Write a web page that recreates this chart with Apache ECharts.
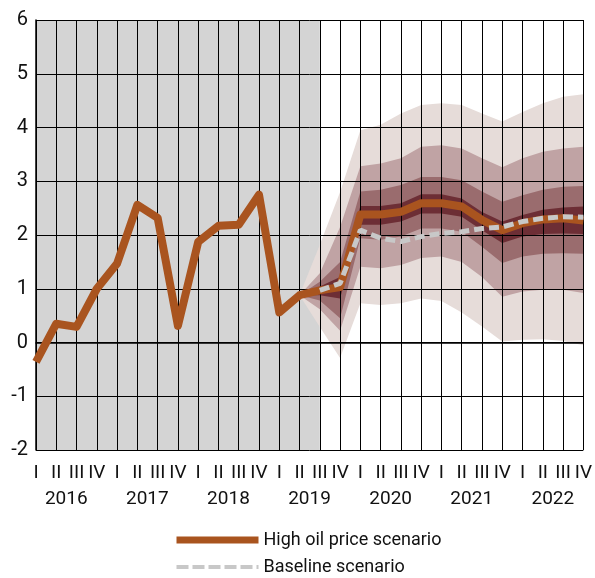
<!DOCTYPE html>
<html>
<head>
<meta charset="utf-8">
<script src="https://cdn.jsdelivr.net/npm/echarts@6/dist/echarts.min.js"></script>
<style>
  html, body { margin: 0; padding: 0; background: #fff; }
  #chart { width: 595px; height: 578px; }
</style>
</head>
<body>
<div id="chart"></div>
<script>
// Quarterly axis: 2016 Q1 .. 2022 Q4
const years = ['2016', '2017', '2018', '2019', '2020', '2021', '2022'];
const quarterNames = ['I', 'II', 'III', 'IV'];
const yTicks = { min: -2, max: 6, step: 1 };

// High oil price scenario (actuals through 2019 Q2, projection afterwards)
const highOilPrice = [
  -0.36, 0.35, 0.29, 1.00,
  1.47, 2.56, 2.32, 0.31,
  1.87, 2.17, 2.19, 2.75,
  0.56, 0.88, 0.97, 1.03,
  2.38, 2.38, 2.43, 2.59,
  2.59, 2.53, 2.28, 2.09,
  2.22, 2.29, 2.31, 2.27
];

// Baseline scenario projection (from 2019 Q3)
const baseline = [
  null, null, null, null,
  null, null, null, null,
  null, null, null, null,
  null, null, 0.97, 1.10,
  2.09, 1.94, 1.88, 1.97,
  2.03, 2.06, 2.12, 2.15,
  2.25, 2.31, 2.34, 2.33
];

// Uncertainty fan around the high oil price path, widest band first
const P = null;
const band4Upper = [P,P,P,P, P,P,P,P, P,P,P,P, P,0.88,1.82,2.80, 3.95,4.05,4.26,4.42, 4.45,4.42,4.26,4.11, 4.29,4.45,4.57,4.62];
const band4Lower = [P,P,P,P, P,P,P,P, P,P,P,P, P,0.88,0.29,-0.29, 0.73,0.70,0.73,0.82, 0.77,0.56,0.30,0.02, 0.05,0.06,0.03,-0.05];
const band3Upper = [P,P,P,P, P,P,P,P, P,P,P,P, P,0.88,1.29,2.15, 3.28,3.33,3.43,3.64, 3.67,3.61,3.43,3.26, 3.43,3.55,3.61,3.64];
const band3Lower = [P,P,P,P, P,P,P,P, P,P,P,P, P,0.88,0.62,0.22, 1.41,1.38,1.44,1.57, 1.60,1.50,1.22,0.85, 0.95,0.98,0.98,0.92];
const band2Upper = [P,P,P,P, P,P,P,P, P,P,P,P, P,0.88,1.13,1.50, 2.81,2.84,2.93,3.08, 3.08,3.02,2.81,2.62, 2.74,2.84,2.90,2.91];
const band2Lower = [P,P,P,P, P,P,P,P, P,P,P,P, P,0.88,0.78,0.45, 1.94,1.91,1.97,2.12, 2.12,2.06,1.78,1.48, 1.60,1.65,1.66,1.65];
const band1Upper = [P,P,P,P, P,P,P,P, P,P,P,P, P,0.88,1.04,1.22, 2.54,2.54,2.59,2.76, 2.76,2.68,2.43,2.25, 2.37,2.47,2.51,2.53];
const band1Lower = [P,P,P,P, P,P,P,P, P,P,P,P, P,0.88,0.88,0.82, 2.19,2.19,2.25,2.40, 2.40,2.34,2.09,1.85, 1.97,2.02,2.03,2.02];

const bandColors = ['#e6dcd9', '#c0a3a4', '#9a6c6e', '#6d2e35'];
const fontFamily = 'Roboto, "Liberation Sans", sans-serif';

const categories = [];
years.forEach(y => quarterNames.forEach(q => categories.push(y + '-' + q)));

function bandSeries(lower, upper, color, key) {
  const diff = upper.map((u, i) => (u == null || lower[i] == null) ? null : +(u - lower[i]).toFixed(3));
  return [
    {
      name: key + '-lo', type: 'line', stack: key, stackStrategy: 'all',
      data: lower, symbol: 'none', silent: true, z: 1,
      lineStyle: { width: 0, opacity: 0 }
    },
    {
      name: key + '-hi', type: 'line', stack: key, stackStrategy: 'all',
      data: diff, symbol: 'none', silent: true, z: 1,
      lineStyle: { width: 0, opacity: 0 },
      areaStyle: { color: color, opacity: 1 }
    }
  ];
}

const series = [
  {
    // shaded history period
    name: 'history', type: 'line', data: [], z: 0, silent: true,
    markArea: {
      silent: true,
      itemStyle: { color: '#d4d4d4' },
      data: [[{ xAxis: '2016-I' }, { xAxis: '2019-III' }]]
    }
  },
  ...bandSeries(band4Lower, band4Upper, bandColors[0], 'b4'),
  ...bandSeries(band3Lower, band3Upper, bandColors[1], 'b3'),
  ...bandSeries(band2Lower, band2Upper, bandColors[2], 'b2'),
  ...bandSeries(band1Lower, band1Upper, bandColors[3], 'b1'),
  {
    name: 'High oil price scenario', type: 'line', data: highOilPrice,
    symbol: 'none', z: 5,
    lineStyle: { color: '#a9541f', width: 8, join: 'round' },
    itemStyle: { color: '#a9541f' }
  },
  {
    name: 'Baseline scenario', type: 'line', data: baseline,
    symbol: 'none', z: 6,
    lineStyle: { color: '#c8c8c8', width: 5, type: [10, 5] },
    itemStyle: { color: '#c8c8c8' }
  }
];

const chart = echarts.init(document.getElementById('chart'), null, { renderer: 'canvas' });
chart.setOption({
  animation: false,
  backgroundColor: '#ffffff',
  grid: { left: 36, right: 10, top: 20, bottom: 128, containLabel: false },
  xAxis: {
    type: 'category',
    data: categories,
    boundaryGap: false,
    z: 3,
    axisLine: { lineStyle: { color: '#000', width: 1.5 } },
    axisTick: { show: false },
    splitLine: { show: true, lineStyle: { color: '#000', width: 1 } },
    axisLabel: {
      interval: 0,
      margin: 10,
      color: '#111',
      fontSize: 19,
      lineHeight: 26,
      fontFamily: fontFamily,
      formatter: function (value) {
        const parts = value.split('-');
        return parts[1] === 'II' ? parts[1] + '\n{yr|' + parts[0] + '}' : parts[1];
      },
      rich: {
        yr: { fontSize: 19, lineHeight: 26, color: '#111', fontFamily: fontFamily, padding: [0, 0, 0, 20] }
      }
    }
  },
  yAxis: {
    type: 'value',
    min: yTicks.min, max: yTicks.max, interval: yTicks.step,
    z: 3,
    axisLine: { show: true, lineStyle: { color: '#000', width: 1.5 } },
    axisTick: { show: false },
    splitLine: { show: true, lineStyle: { color: '#000', width: 1 } },
    axisLabel: { margin: 8, color: '#111', fontSize: 20, fontFamily: fontFamily }
  },
  legend: {
    data: [
      { name: 'High oil price scenario', lineStyle: { width: 7 } },
      { name: 'Baseline scenario', lineStyle: { width: 4, type: [12, 4] } }
    ],
    orient: 'vertical',
    left: 168, top: 526, height: 80,
    itemWidth: 82, itemHeight: 10, itemGap: 9,
    itemStyle: { opacity: 0 },
    textStyle: { fontSize: 18, color: '#111', fontFamily: fontFamily },
    selectedMode: false
  },
  series: series
});
</script>
</body>
</html>
